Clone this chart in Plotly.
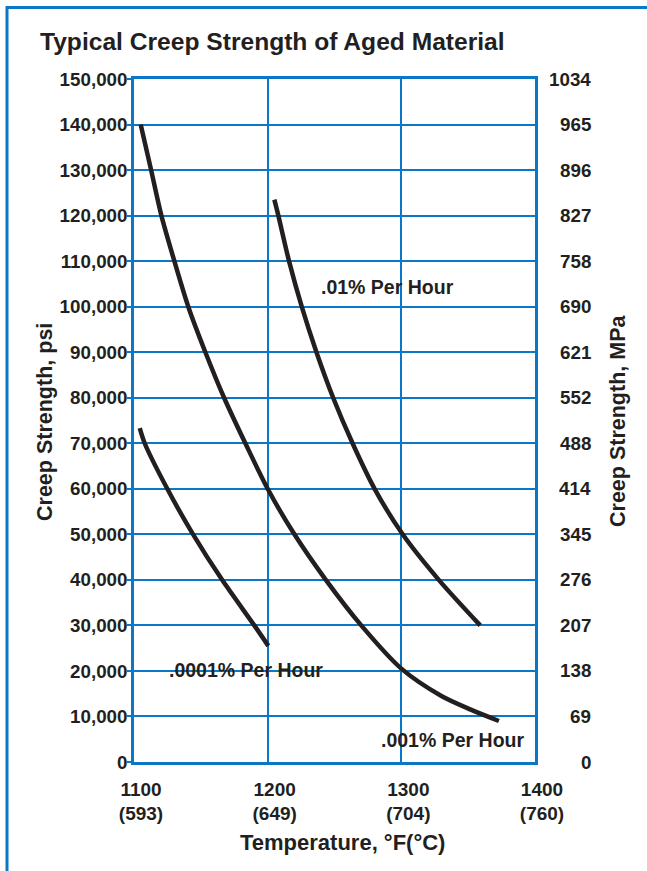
import plotly.graph_objects as go

# ---- data ----
temp_01 = [1205, 1208, 1216, 1225.5, 1236.5, 1249, 1263.5, 1280, 1301, 1328, 1359]
psi_01 = [123500, 120000, 110000, 100000, 90000, 80000, 70000, 60000, 50000, 40000, 30000]

temp_001 = [1105, 1112.8, 1120.5, 1130.2, 1140.6, 1153.4, 1167.4, 1183.3, 1200, 1220, 1243.5, 1270, 1300, 1330, 1352, 1373]
psi_001 = [140000, 130000, 120000, 110000, 100000, 90000, 80000, 70000, 60000, 50000, 40000, 30000, 20500, 14500, 11500, 9000]

temp_0001 = [1104.3, 1108, 1124.9, 1144.2, 1165.9, 1190, 1200.5]
psi_0001 = [73300, 70000, 60000, 50000, 40000, 30000, 25500]

x_ticks = [1100, 1200, 1300, 1400]
x_tick_c = ["593", "649", "704", "760"]
psi_ticks = list(range(0, 150001, 10000))
mpa_labels = ["0", "69", "138", "207", "276", "345", "414", "488", "552", "621",
              "690", "758", "827", "896", "965", "1034"]

curve_labels = [".01% Per Hour", ".001% Per Hour", ".0001% Per Hour"]
label_pos_t = [1290, 1338, 1184]
label_pos_psi = [104400, 4800, 20200]

BLUE = "#0a78c6"
INK = "#231f20"
FONT = "Liberation Sans"

fig = go.Figure()
for tx, py in [(temp_01, psi_01), (temp_001, psi_001), (temp_0001, psi_0001)]:
    fig.add_trace(go.Scatter(x=tx, y=py, mode="lines",
                             line=dict(color=INK, width=4.5, shape="spline", smoothing=0.8),
                             showlegend=False, hoverinfo="skip"))

annotations = []
for txt, t, p in zip(curve_labels, label_pos_t, label_pos_psi):
    annotations.append(dict(x=t, y=p, xref="x", yref="y", text=txt, showarrow=False,
                            font=dict(family=FONT, size=19.5, color=INK, weight="bold"),
                            xanchor="center", yanchor="middle"))

for v, lab in zip(psi_ticks, mpa_labels):
    annotations.append(dict(x=(593 - 134) / 401, y=v, xref="paper", yref="y", text=lab,
                            showarrow=False, xanchor="right", yanchor="middle",
                            font=dict(family=FONT, size=18.8, color=INK, weight="bold")))

annotations.append(dict(x=(45 - 134) / 401, y=(762 - 422) / 683, xref="paper", yref="paper",
                        text="Creep Strength, psi", textangle=-90, showarrow=False,
                        xanchor="center", yanchor="middle",
                        font=dict(family=FONT, size=21.5, color=INK, weight="bold")))
annotations.append(dict(x=(618 - 134) / 401, y=(762 - 421) / 683, xref="paper", yref="paper",
                        text="Creep Strength, MPa", textangle=-90, showarrow=False,
                        xanchor="center", yanchor="middle",
                        font=dict(family=FONT, size=21.5, color=INK, weight="bold")))
annotations.append(dict(x=(342.5 - 134) / 401, y=(762 - 842) / 683, xref="paper", yref="paper",
                        text="Temperature, °F(°C)", showarrow=False,
                        xanchor="center", yanchor="middle",
                        font=dict(family=FONT, size=22, color=INK, weight="bold")))
annotations.append(dict(x=(38 - 134) / 401, y=1 + (79 - 42) / 683, xref="paper", yref="paper",
                        text="Typical Creep Strength of Aged Material", showarrow=False,
                        xanchor="left", yanchor="middle",
                        font=dict(family=FONT, size=24.6, color=INK, weight="bold")))

shapes = [
    dict(type="line", xref="paper", yref="paper", x0=(7 - 134) / 401, x1=(7 - 134) / 401,
         y0=(762 - 880) / 683, y1=1 + (79 - 6) / 683, line=dict(color=BLUE, width=3)),
    dict(type="line", xref="paper", yref="paper", x0=(6 - 134) / 401, x1=(660 - 134) / 401,
         y0=1 + (79 - 7.5) / 683, y1=1 + (79 - 7.5) / 683, line=dict(color=BLUE, width=3)),
]

fig.update_layout(
    width=647, height=871,
    margin=dict(l=134, r=112, t=79, b=109, pad=0),
    paper_bgcolor="white", plot_bgcolor="white",
    annotations=annotations, shapes=shapes,
    xaxis=dict(range=[1100, 1400], tickvals=x_ticks,
               ticktext=[f"{a}<br>({b})" for a, b in zip(x_ticks, x_tick_c)],
               showgrid=True, gridcolor=BLUE, gridwidth=2,
               showline=True, mirror=True, linecolor=BLUE, linewidth=2.5,
               zeroline=False, ticks="", ticklabelshift=7, ticklabelstandoff=8,
               tickfont=dict(family=FONT, size=19, color=INK, weight="bold")),
    yaxis=dict(range=[0, 150000], tickvals=psi_ticks, tickformat=",",
               showgrid=True, gridcolor=BLUE, gridwidth=2,
               showline=True, mirror=True, linecolor=BLUE, linewidth=2.5,
               zeroline=False, ticks="outside", ticklen=4, tickcolor=BLUE, tickwidth=2,
               ticklabelstandoff=-4,
               tickfont=dict(family=FONT, size=18.8, color=INK, weight="bold")),
)

fig.write_html("out.html", config={"displayModeBar": False},
               post_script="document.body.style.margin='0';")
